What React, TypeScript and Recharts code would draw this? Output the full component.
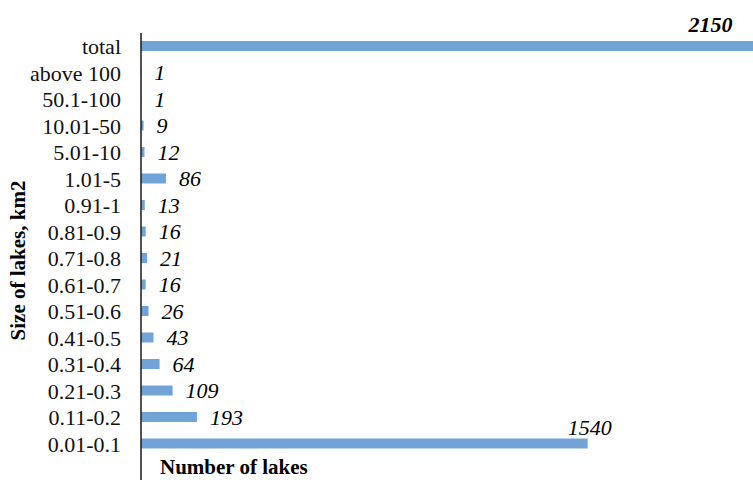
import React from "react";
import { BarChart, Bar, XAxis, YAxis, LabelList } from "recharts";

const sizeClasses = [
  "total",
  "above 100",
  "50.1-100",
  "10.01-50",
  "5.01-10",
  "1.01-5",
  "0.91-1",
  "0.81-0.9",
  "0.71-0.8",
  "0.61-0.7",
  "0.51-0.6",
  "0.41-0.5",
  "0.31-0.4",
  "0.21-0.3",
  "0.11-0.2",
  "0.01-0.1",
];
const lakeCounts = [2150, 1, 1, 9, 12, 86, 13, 16, 21, 16, 26, 43, 64, 109, 193, 1540];

const data = sizeClasses.map((name, i) => ({ name, count: lakeCounts[i] }));

const FONT = "Liberation Serif";
const BAR_COLOR = "#72a3d7";

const ValueLabel = (props: any) => {
  const { x, y, width, height, value, index } = props;
  if (index === 0) {
    // total: label sits above the bar, near the right edge
    return (
      <text x={x + width - 32} y={y - 9} textAnchor="end" fontSize={22} fontStyle="italic"
        fontWeight="bold" fill="#000">
        {value}
      </text>
    );
  }
  if (width > 300) {
    return (
      <text x={x + width + 2} y={y - 4} textAnchor="middle" fontSize={22} fontStyle="italic"
        fontWeight="normal" fill="#000">
        {value}
      </text>
    );
  }
  return (
    <text x={x + width + 13} y={y + height / 2} dy="0.35em" textAnchor="start" fontSize={22}
      fontStyle="italic" fontWeight="normal" fill="#000">
      {value}
    </text>
  );
};

// both axis titles are drawn from the y-axis box
const AxisTitles = (props: any) => {
  const { viewBox } = props;
  const cx = viewBox.x + 18;
  const cy = viewBox.y + viewBox.height / 2 + 4;
  return (
    <g>
      <text x={cx} y={cy} transform={`rotate(-90 ${cx} ${cy})`} textAnchor="middle" dy="0.35em"
        fontSize={21} fontWeight="bold" fill="#000">
        Size of lakes, km2
      </text>
      <text x={viewBox.x + viewBox.width + 19} y={viewBox.y + viewBox.height - 6} textAnchor="start"
        fontSize={21} fontWeight="bold" fill="#000">
        Number of lakes
      </text>
    </g>
  );
};

export default function App() {
  return (
    <div style={{ position: "absolute", left: 0, top: 0, background: "#fff" }}>
      <style>{`.lakes svg text { font-family: "Liberation Serif", "Times New Roman", serif; }`}</style>
      <div className="lakes">
        <BarChart
          width={753}
          height={480}
          data={data}
          layout="vertical"
          margin={{ top: 33, right: 0, bottom: 0, left: 0 }}
        >
          <XAxis type="number" domain={[0, 2110]} allowDataOverflow hide />
          <YAxis
            type="category"
            dataKey="name"
            width={141}
            padding={{ top: 0, bottom: 23 }}
            tickLine={false}
            tickMargin={14}
            axisLine={{ stroke: "#1a1a1a", strokeWidth: 1.5 }}
            tick={{ fontSize: 22, fill: "#111", fontFamily: FONT }}
            interval={0}
            label={<AxisTitles />}
          />
          <Bar dataKey="count" fill={BAR_COLOR} barSize={10} isAnimationActive={false}>
            <LabelList dataKey="count" content={<ValueLabel />} />
          </Bar>
        </BarChart>
      </div>
    </div>
  );
}
